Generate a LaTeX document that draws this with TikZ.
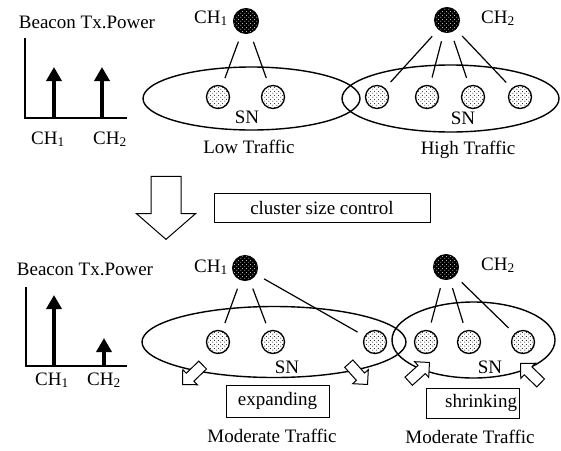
\documentclass[tikz,border=0pt]{standalone}
\usepackage{fontspec}
\setmainfont{Liberation Serif}
\usetikzlibrary{arrows.meta, patterns, shapes.arrows, positioning}

% Punktraster fuer die Knoten
\pgfdeclarepatternformonly{sndots}{\pgfpointorigin}{\pgfqpoint{4pt}{4pt}}{\pgfqpoint{4pt}{4pt}}{
	\pgfpathcircle{\pgfqpoint{1pt}{1pt}}{0.6pt}
	\pgfpathcircle{\pgfqpoint{3pt}{3pt}}{0.6pt}
	\pgfusepath{fill}
}

\begin{document}
\begin{tikzpicture}[x=1pt,y=-1pt,
		font=\fontsize{19}{22}\selectfont,
		ch/.style={circle, draw, line width=1pt, minimum size=25pt, inner sep=0pt, preaction={fill=black}, pattern=sndots, pattern color=white},
		sn/.style={circle, draw, line width=1.3pt, minimum size=23pt, inner sep=0pt, preaction={fill=white}, pattern=sndots},
		link/.style={line width=1.2pt, shorten <=9pt, shorten >=8pt},
		bar/.style={line width=4.5pt, -{Triangle[width=15pt,length=14pt]}},
		axis/.style={line width=1.2pt},
		cluster/.style={line width=1.4pt},
		blockarrow/.style={single arrow, draw, fill=white, line width=1pt, inner sep=5pt, single arrow head extend=5pt, minimum height=28pt},
		textbox/.style={draw, line width=1pt, inner sep=2pt}]
	\useasboundingbox (0,0) rectangle (561,450);
	
	% Sendeleistung oben
	\node[anchor=base] (pwt) at (87,28) {Beacon Tx.Power};
	\draw[axis] (25,38) -- (25,118) -- (127,118);
	\draw[bar] (54,118) -- (54,67);
	\draw[bar] (102,118) -- (102,67);
	\node[anchor=base] at (48,144) {CH\textsubscript{1}};
	\node[anchor=base] at (110,144) {CH\textsubscript{2}};
	
	% Cluster oben
	\draw[cluster] (251.5,98.5) ellipse [x radius=108.5, y radius=31.5];
	\draw[cluster] (450.5,98.5) ellipse [x radius=108.5, y radius=33.5];
	\node[ch] (ch1t) at (246,21) {};
	\node[ch] (ch2t) at (447,20) {};
	\node[anchor=base] at (211,23) {CH\textsubscript{1}};
	\node[anchor=base] at (498,23) {CH\textsubscript{2}};
	\foreach \i/\x in {1/218,2/273,3/377,4/427,5/473,6/520}
		\node[sn] (sn\i t) at (\x,97) {};
	\foreach \i in {1,2}
		\draw[link] (ch1t) -- (sn\i t);
	\foreach \i in {3,...,6}
		\draw[link] (ch2t) -- (sn\i t);
	\node[anchor=base] at (247,123) {SN};
	\node[anchor=base] at (463,124) {SN};
	\node[anchor=base] at (249,153) {Low Traffic};
	\node[anchor=base] at (468,154) {High Traffic};
	
	% Uebergang
	\node[blockarrow, inner sep=14.5pt, single arrow head extend=14.5pt, single arrow tip angle=98, minimum height=63pt, rotate=-90, anchor=tip] (down) at (166,240) {};
	\node[textbox, minimum width=216pt, minimum height=29pt] (ctrl) at (322,207.5) {cluster size control};
	
	% Sendeleistung unten
	\node[anchor=base] (pwb) at (85,275) {Beacon Tx.Power};
	\draw[axis] (26,287) -- (26,366) -- (127,366);
	\draw[bar] (54,366) -- (54,295);
	\draw[bar] (104,366) -- (104,338);
	\node[anchor=base] at (52,385) {CH\textsubscript{1}};
	\node[anchor=base] at (104,385) {CH\textsubscript{2}};
	
	% Cluster unten
	\draw[cluster] (274,342) ellipse [x radius=132, y radius=35.5];
	\draw[cluster] (473.5,340) ellipse [x radius=81.5, y radius=38];
	\node[ch] (ch1b) at (245,268) {};
	\node[ch] (ch2b) at (446,267) {};
	\node[anchor=base] at (211,272) {CH\textsubscript{1}};
	\node[anchor=base] at (498,270) {CH\textsubscript{2}};
	\foreach \i/\x in {1/218,2/273,3/375,4/426,5/469,6/523}
		\node[sn] (sn\i b) at (\x,342) {};
	\foreach \i in {1,2,3}
		\draw[link] (ch1b) -- (sn\i b);
	\foreach \i in {4,5,6}
		\draw[link] (ch2b) -- (sn\i b);
	\node[anchor=base] at (287,373) {SN};
	\node[anchor=base] at (490,373) {SN};
	
	% Vergroessern / Verkleinern
	\node[blockarrow, rotate=-136, anchor=tip] (exl) at (182,385) {};
	\node[blockarrow, rotate=-48, anchor=tip] (exr) at (368,385) {};
	\node[blockarrow, rotate=42, anchor=tip] (shl) at (430,362) {};
	\node[blockarrow, rotate=136, anchor=tip] (shr) at (520,363) {};
	\node[textbox, minimum width=103pt, minimum height=32pt] (expd) at (277.5,401) {expanding};
	\node[textbox, text width=89pt, align=right, minimum height=30pt] (shrk) at (472.5,403) {shrinking};
	\node[anchor=base] at (272,442) {Moderate Traffic};
	\node[anchor=base] at (470,443) {Moderate Traffic};
\end{tikzpicture}
\end{document}
